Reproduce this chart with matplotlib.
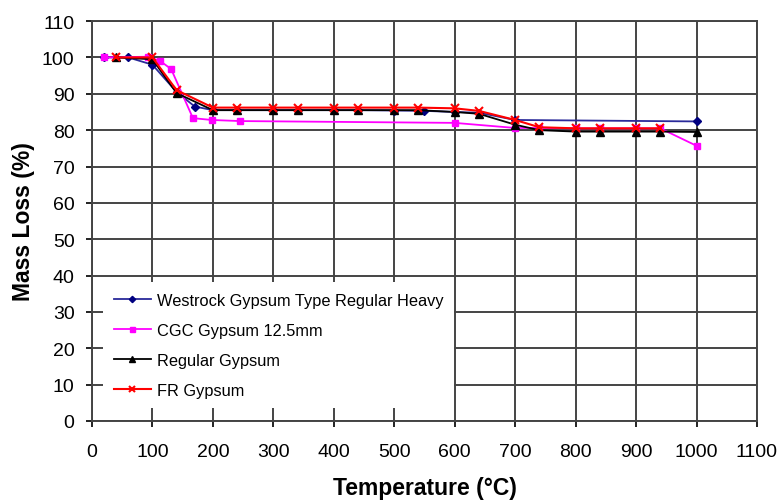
import matplotlib
matplotlib.use('Agg')
import matplotlib.pyplot as plt

plt.rcParams['font.family'] = ['Liberation Sans', 'DejaVu Sans']

# Westrock Gypsum Type Regular Heavy
westrock_t = [20, 60, 100, 140, 170, 200, 240, 300, 340, 400, 440, 500, 550, 600, 640, 700, 1000]
westrock_m = [100, 100, 98, 90.5, 86.5, 85.5, 85.5, 85.5, 85.5, 85.5, 85.5, 85.4, 85.3, 85.0, 84.8, 82.8, 82.4]

# CGC Gypsum 12.5mm
cgc_t = [20, 93, 113, 131, 167, 198, 245, 600, 700, 740, 800, 840, 900, 940, 1000]
cgc_m = [100, 100.2, 99, 96.8, 83.3, 82.8, 82.5, 82.0, 80.6, 80.6, 80.5, 80.5, 80.5, 80.5, 75.7]

# Regular Gypsum
regular_t = [40, 100, 140, 200, 240, 300, 340, 400, 440, 500, 540, 600, 640, 700, 740, 800, 840, 900, 940, 1000]
regular_m = [100, 99.5, 90.2, 85.5, 85.5, 85.5, 85.5, 85.5, 85.5, 85.5, 85.5, 85.0, 84.5, 81.5, 80.0, 79.6, 79.6, 79.6, 79.6, 79.5]

# FR Gypsum
fr_t = [40, 100, 140, 200, 240, 300, 340, 400, 440, 500, 540, 600, 640, 700, 740, 800, 840, 900, 940]
fr_m = [100, 100, 91, 86.2, 86.2, 86.2, 86.2, 86.2, 86.2, 86.2, 86.2, 86.0, 85.3, 82.8, 80.8, 80.5, 80.5, 80.5, 80.5]

fig = plt.figure(figsize=(7.82, 5.02), dpi=100)
ax = fig.add_axes([0.1176, 0.1594, 0.8504, 0.7966])

ax.plot(westrock_t, westrock_m, color='#2a2a9a', marker='D', markersize=4,
        markerfacecolor='#000080', markeredgecolor='#000080', linewidth=1.3,
        label='Westrock Gypsum Type Regular Heavy')
ax.plot(cgc_t, cgc_m, color='#ff00ff', marker='s', markersize=4.5,
        linewidth=1.3, label='CGC Gypsum 12.5mm')
ax.plot(regular_t, regular_m, color='black', marker='^', markersize=5.5,
        linewidth=1.3, label='Regular Gypsum')
ax.plot(fr_t, fr_m, color='#ff0000', marker='x', markersize=5.5, markeredgewidth=1.5,
        linewidth=1.5, label='FR Gypsum')

ax.set_xlim(0, 1100)
ax.set_ylim(0, 110)
ax.set_xticks(range(0, 1101, 100))
ax.set_yticks(range(0, 111, 10))
ax.grid(True, color='#444444', linewidth=1.4)
ax.set_axisbelow(True)
for s in ax.spines.values():
    s.set_color('#444444')
    s.set_linewidth(1.4)
ax.tick_params(direction='out', length=4.5, width=1.4, color='#222222', labelsize=14)
ax.tick_params(axis='y', pad=8)
ax.tick_params(axis='x', pad=11)

ax.set_xlabel('Temperature (°C)', fontsize=16.5, fontweight='bold', labelpad=12)
ax.set_ylabel('Mass Loss (%)', fontsize=16.5, fontweight='bold', labelpad=5)

leg = ax.legend(loc='upper left', bbox_to_anchor=(0.0165, 0.3475), borderaxespad=0,
                fontsize=11.75, frameon=True, fancybox=False, framealpha=1,
                facecolor='white', edgecolor='none',
                handlelength=2.3, labelspacing=0.92, borderpad=0.65, handletextpad=0.35,
                markerscale=0.8)

fig.savefig('out.png', dpi=100)
